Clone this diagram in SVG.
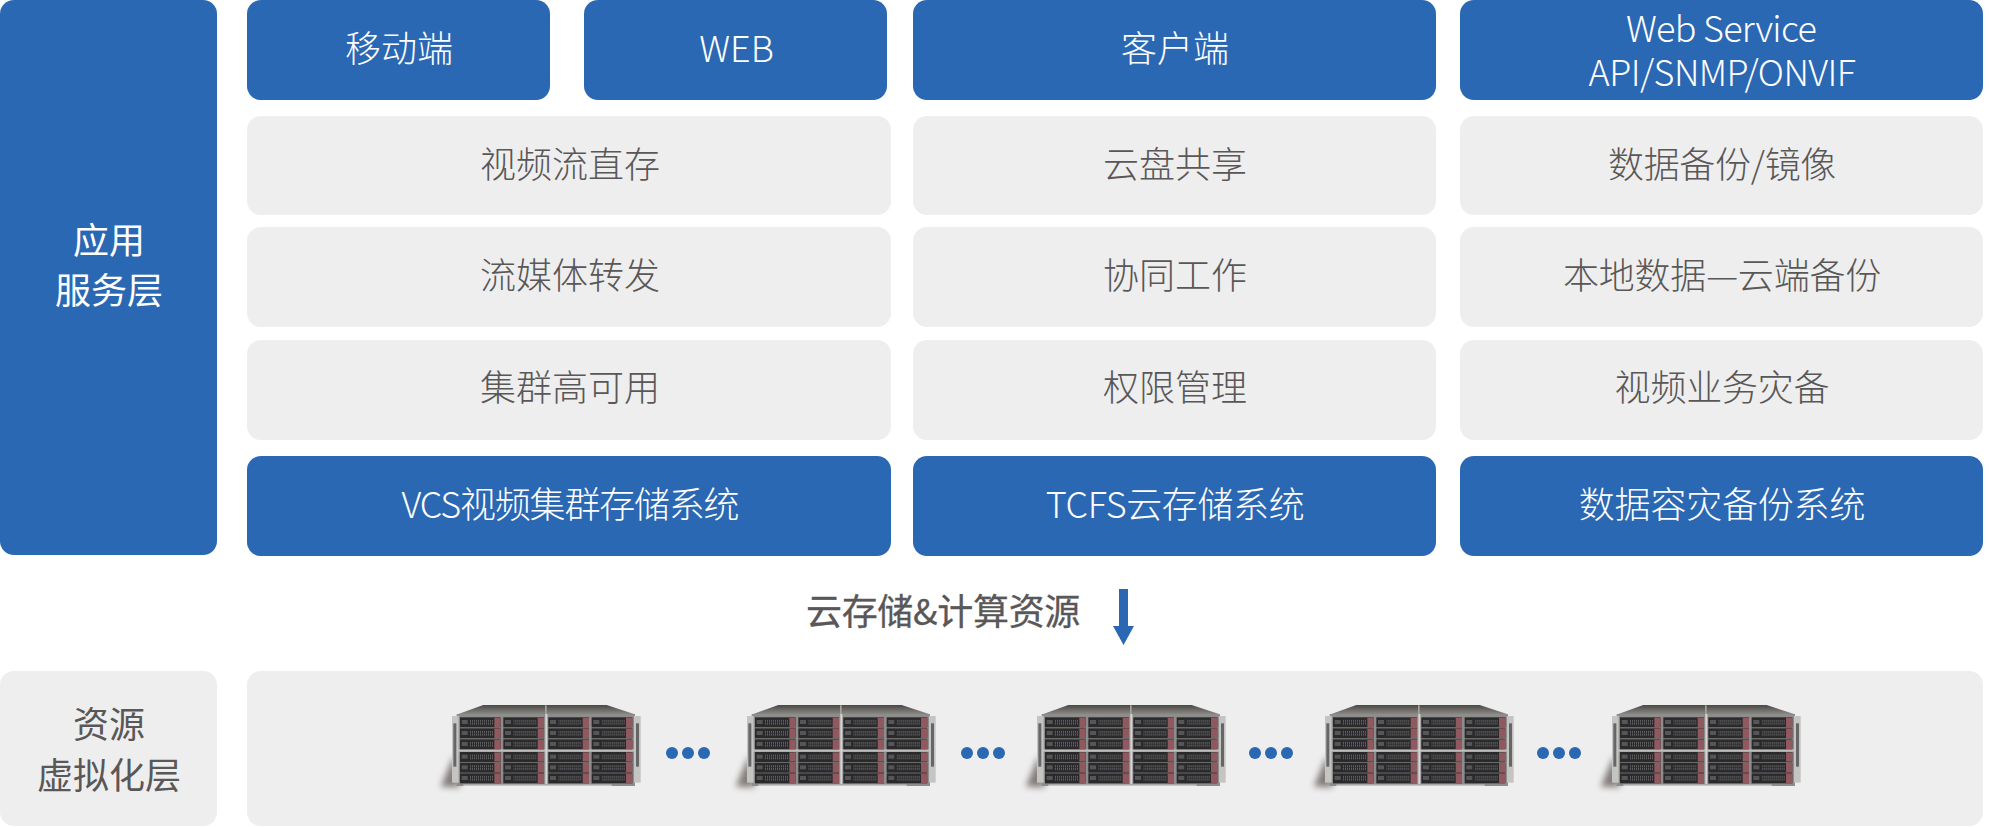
<svg xmlns="http://www.w3.org/2000/svg" xmlns:xlink="http://www.w3.org/1999/xlink" width="1989" height="827" viewBox="0 0 1989 827">
<style>
text{font-family:"Noto Sans CJK SC","Noto Sans",sans-serif;font-size:36px;font-weight:300;text-anchor:middle}
.b{fill:#2a68b3}
.g{fill:#eeeeee}
.w{fill:#ffffff}
.d{fill:#595757}
.dots{fill:#2a68b3}
</style>
<defs>
<filter id="sh" x="-150%" y="-50%" width="400%" height="200%"><feGaussianBlur stdDeviation="10"/></filter>
<filter id="soft" x="-5%" y="-5%" width="110%" height="110%"><feGaussianBlur stdDeviation="1"/></filter>
<linearGradient id="top" x1="0" y1="0" x2="0" y2="1"><stop offset="0" stop-color="#4a4845"/><stop offset="1" stop-color="#8a8783"/></linearGradient>
<pattern id="gr" width="6" height="8" patternUnits="userSpaceOnUse"><rect width="6" height="8" fill="#2b2b2d"/><rect x="1" y="0" width="2" height="6" fill="#77777b"/></pattern>
<g id="drawer">
<rect width="122" height="30" fill="#29292b"/>
<rect x="30" y="7" width="70" height="16" fill="url(#gr)"/>
<rect x="5" y="8" width="18" height="12" fill="#56565a"/>
<rect x="103" y="1" width="19" height="28" fill="#90585f"/>
</g>
<g id="column">
<use href="#drawer" y="82"/><use href="#drawer" y="115"/><use href="#drawer" y="148"/>
<use href="#drawer" y="186"/><use href="#drawer" y="218"/><use href="#drawer" y="250"/>
</g>
<g id="server" transform="scale(0.33333)">
<path d="M32 290 L72 195 L90 292 Z" fill="#5f5752" opacity="0.75" filter="url(#sh)"/>
<g filter="url(#soft)">
<path d="M85 72 L160 45 L530 45 L612 72 Z" fill="url(#top)"/>
<rect x="345" y="46" width="5" height="28" fill="#a5a39f"/>
<rect x="80" y="72" width="535" height="216" fill="#8d8d8d"/>
<rect x="82" y="178" width="530" height="7" fill="#bdbdbb"/>
<rect x="66" y="78" width="20" height="200" fill="#c4c4c2"/>
<rect x="612" y="78" width="20" height="200" fill="#c4c4c2"/>
<rect x="70" y="100" width="9" height="130" fill="#666666"/>
<rect x="618" y="100" width="9" height="130" fill="#666666"/>
<use href="#column" x="90"/><use href="#column" x="220"/><use href="#column" x="355"/><use href="#column" x="485"/>
<rect x="346" y="72" width="6" height="210" fill="#d6d6d4"/>
<rect x="80" y="282" width="535" height="6" fill="#8c8c8a"/>
<rect x="100" y="284" width="445" height="3" fill="#e2e2e0"/>
</g>
</g>
</defs>
<g id="connectors">
<path class="b" d="M1119 589H1128V626H1134L1123.500 645L1113 626H1119Z"/>
</g>
<g id="layer-app"><rect class="b" x="0" y="0" width="217" height="555" rx="14"/><text class="w" x="109" y="254" style="font-weight:400">应用</text><text class="w" x="109" y="304" style="font-weight:400">服务层</text></g>
<g id="n-mobile"><rect class="b" x="247" y="0" width="303" height="100" rx="14"/><text class="w" x="399" y="62">移动端</text></g>
<g id="n-web"><rect class="b" x="584" y="0" width="303" height="100" rx="14"/><text class="w" x="736.500" y="62">WEB</text></g>
<g id="n-client"><rect class="b" x="913" y="0" width="523" height="100" rx="14"/><text class="w" x="1175" y="62">客户端</text></g>
<g id="n-ws"><rect class="b" x="1460" y="0" width="523" height="100" rx="14"/><text class="w" x="1721" y="42" letter-spacing="-0.7">Web Service</text><text class="w" x="1722" y="86" letter-spacing="-0.55">API/SNMP/ONVIF</text></g>
<g id="n-a1"><rect class="g" x="247" y="116" width="644" height="99" rx="14"/><text class="d" x="570" y="178">视频流直存</text></g>
<g id="n-a2"><rect class="g" x="247" y="227" width="644" height="100" rx="14"/><text class="d" x="570" y="289">流媒体转发</text></g>
<g id="n-a3"><rect class="g" x="247" y="340" width="644" height="100" rx="14"/><text class="d" x="570" y="401">集群高可用</text></g>
<g id="n-a4"><rect class="b" x="247" y="456" width="644" height="100" rx="14"/><text class="w" x="570" y="518" letter-spacing="-1.2">VCS视频集群存储系统</text></g>
<g id="n-b1"><rect class="g" x="913" y="116" width="523" height="99" rx="14"/><text class="d" x="1175" y="178">云盘共享</text></g>
<g id="n-b2"><rect class="g" x="913" y="227" width="523" height="100" rx="14"/><text class="d" x="1175" y="289">协同工作</text></g>
<g id="n-b3"><rect class="g" x="913" y="340" width="523" height="100" rx="14"/><text class="d" x="1175" y="401">权限管理</text></g>
<g id="n-b4"><rect class="b" x="913" y="456" width="523" height="100" rx="14"/><text class="w" x="1175" y="518" letter-spacing="-0.4">TCFS云存储系统</text></g>
<g id="n-c1"><rect class="g" x="1460" y="116" width="523" height="99" rx="14"/><text class="d" x="1722" y="178" letter-spacing="-0.3">数据备份/镜像</text></g>
<g id="n-c2"><rect class="g" x="1460" y="227" width="523" height="100" rx="14"/><text class="d" x="1722" y="289" letter-spacing="-0.2">本地数据—云端备份</text></g>
<g id="n-c3"><rect class="g" x="1460" y="340" width="523" height="100" rx="14"/><text class="d" x="1722" y="401" letter-spacing="-0.2">视频业务灾备</text></g>
<g id="n-c4"><rect class="b" x="1460" y="456" width="523" height="100" rx="14"/><text class="w" x="1722" y="518" letter-spacing="-0.2">数据容灾备份系统</text></g>
<g id="label-res"><text class="d" x="943" y="625" style="font-weight:400;font-size:36px" letter-spacing="-0.3" stroke="#595757" stroke-width="0.3">云存储&amp;计算资源</text></g>
<g id="layer-res"><rect class="g" x="0" y="671" width="217" height="155" rx="14"/><text class="d" x="109" y="738" style="font-weight:400">资源</text><text class="d" x="109" y="789" style="font-weight:400">虚拟化层</text></g>
<g id="n-res"><rect class="g" x="247" y="671" width="1736" height="155" rx="14"/></g>
<g id="s1"><use href="#server" x="430" y="690"/></g>
<g id="s2"><use href="#server" x="725" y="690"/></g>
<g id="s3"><use href="#server" x="1015" y="690"/></g>
<g id="s4"><use href="#server" x="1303" y="690"/></g>
<g id="s5"><use href="#server" x="1590" y="690"/></g>
<g id="dots" class="dots">
<circle cx="672" cy="753" r="6"/><circle cx="688" cy="753" r="6"/><circle cx="704" cy="753" r="6"/>
<circle cx="967" cy="753" r="6"/><circle cx="983" cy="753" r="6"/><circle cx="999" cy="753" r="6"/>
<circle cx="1255" cy="753" r="6"/><circle cx="1271" cy="753" r="6"/><circle cx="1287" cy="753" r="6"/>
<circle cx="1543" cy="753" r="6"/><circle cx="1559" cy="753" r="6"/><circle cx="1575" cy="753" r="6"/>
</g>
</svg>
